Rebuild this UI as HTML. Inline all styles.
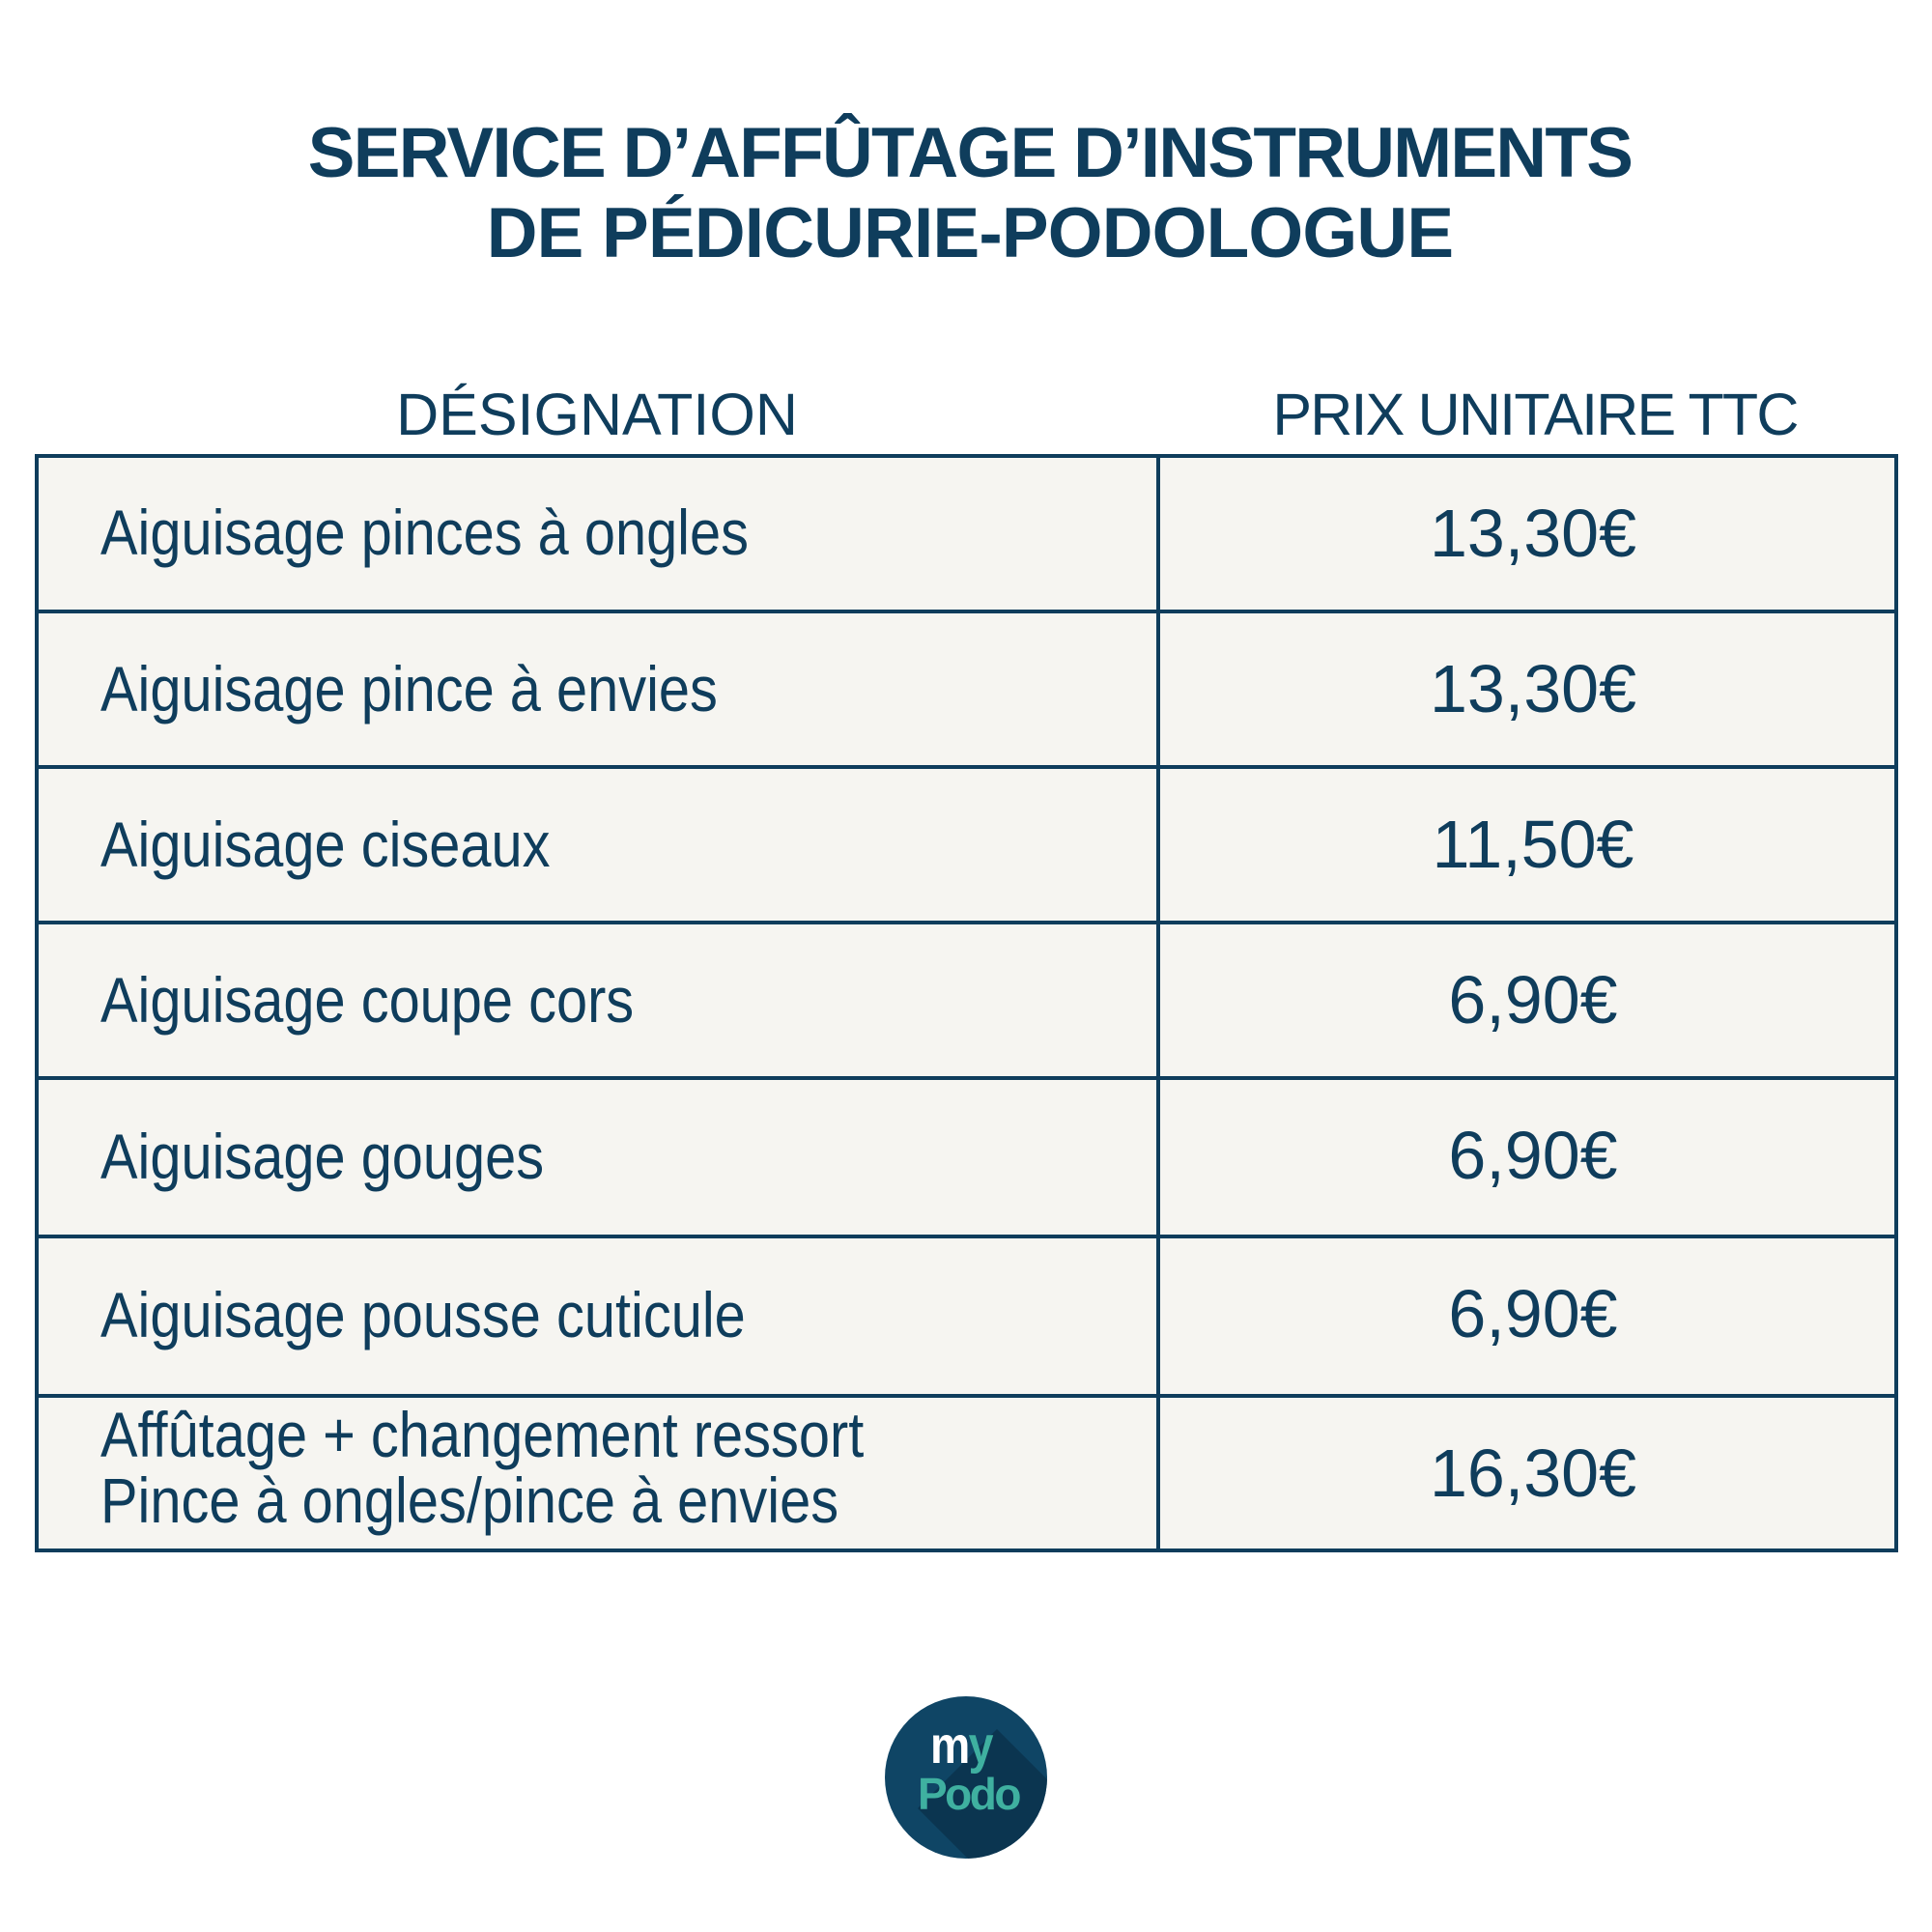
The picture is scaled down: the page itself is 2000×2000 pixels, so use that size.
<!DOCTYPE html>
<html>
<head>
<meta charset="utf-8">
<style>
  html, body { margin:0; padding:0; }
  body { width:2000px; height:2000px; background:#ffffff; position:relative; overflow:hidden;
         font-family:"Liberation Sans", sans-serif; color:#0f3d5c; }
  .abs { position:absolute; white-space:nowrap; line-height:1; }
  .title { font-weight:bold; font-size:73px; left:0; width:2008px; text-align:center; }
  .hdr { font-size:61px; text-align:center; }
  .cell { position:absolute; left:36px; top:470px; width:1929px; height:1137px; background:#f6f5f1; }
  .hl { position:absolute; left:36px; width:1929px; height:4px; background:#0f3d5c; }
  .vl { position:absolute; top:470px; width:4px; height:1137px; background:#0f3d5c; }
  .txt { font-size:66px; left:104px; transform:scaleX(0.875); transform-origin:0 0; }
  .price { font-size:70px; left:1387px; width:400px; text-align:center; }
</style>
</head>
<body>
  <div class="abs title" style="top:122px; letter-spacing:-1.7px;">SERVICE D’AFFÛTAGE D’INSTRUMENTS</div>
  <div class="abs title" style="top:205px; letter-spacing:-0.8px;">DE PÉDICURIE-PODOLOGUE</div>

  <div class="abs hdr" style="top:399px; left:318px; width:600px;">DÉSIGNATION</div>
  <div class="abs hdr" style="top:399px; left:1289px; width:600px; letter-spacing:-1.8px;">PRIX UNITAIRE TTC</div>

  <div class="cell"></div>
  <div class="hl" style="top:470px;"></div>
  <div class="hl" style="top:631px;"></div>
  <div class="hl" style="top:792px;"></div>
  <div class="hl" style="top:953px;"></div>
  <div class="hl" style="top:1114px;"></div>
  <div class="hl" style="top:1278px;"></div>
  <div class="hl" style="top:1443px;"></div>
  <div class="hl" style="top:1603px;"></div>
  <div class="vl" style="left:36px;"></div>
  <div class="vl" style="left:1197px;"></div>
  <div class="vl" style="left:1961px;"></div>

  <div class="abs txt" style="top:518px;">Aiguisage pinces à ongles</div>
  <div class="abs txt" style="top:680px;">Aiguisage pince à envies</div>
  <div class="abs txt" style="top:841px;">Aiguisage ciseaux</div>
  <div class="abs txt" style="top:1002px;">Aiguisage coupe cors</div>
  <div class="abs txt" style="top:1164px;">Aiguisage gouges</div>
  <div class="abs txt" style="top:1328px;">Aiguisage pousse cuticule</div>
  <div class="abs txt" style="top:1452px;">Affûtage + changement ressort</div>
  <div class="abs txt" style="top:1520px;">Pince à ongles/pince à envies</div>

  <div class="abs price" style="top:517px;">13,30€</div>
  <div class="abs price" style="top:678px;">13,30€</div>
  <div class="abs price" style="top:839px;">11,50€</div>
  <div class="abs price" style="top:1000px;">6,90€</div>
  <div class="abs price" style="top:1161px;">6,90€</div>
  <div class="abs price" style="top:1325px;">6,90€</div>
  <div class="abs price" style="top:1490px;">16,30€</div>

  <!-- Logo -->
  <svg style="position:absolute; left:0; top:0;" width="2000" height="2000" viewBox="0 0 2000 2000">
    <defs>
      <clipPath id="c"><circle cx="1000" cy="1840" r="84"/></clipPath>
    </defs>
    <circle cx="1000" cy="1840" r="84" fill="#0f4565"/>
    <polygon clip-path="url(#c)" points="1032,1790 1232,1990 1150,2072 950,1872" fill="#0b3550"/>
  </svg>
  <div class="abs" style="left:963px; top:1780px; font-size:54px; font-weight:bold; letter-spacing:-2px; transform:scaleX(0.86); transform-origin:0 0;"><span style="color:#ffffff;">m</span><span style="color:#3fb0a0;">y</span></div>
  <div class="abs" style="left:950px; top:1834px; font-size:46px; font-weight:bold; letter-spacing:-2.5px; color:#3fb0a0;">Podo</div>
</body>
</html>
